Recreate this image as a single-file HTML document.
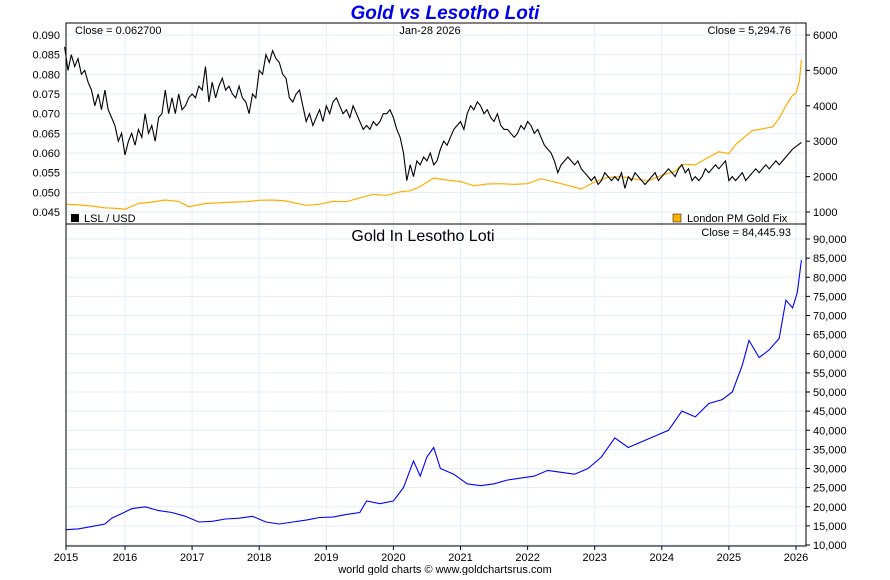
<!DOCTYPE html>
<html><head><meta charset="utf-8"><style>
body{margin:0;background:#fff;font-family:"Liberation Sans",sans-serif;}
svg text{font-family:"Liberation Sans",sans-serif;}
</style></head><body>
<svg id="c" width="890" height="575">
<text x="445" y="19" text-anchor="middle" font-size="19" font-weight="bold" font-style="italic" fill="#0000ee">Gold vs Lesotho Loti</text>
<g id="grid"></g>
<g id="marks"></g>
<rect x="66" y="23" width="740" height="523" fill="none" stroke="#000"/>
<line x1="66" y1="224" x2="806" y2="224" stroke="#000"/>
<text x="75" y="34" font-size="11">Close = 0.062700</text>
<text x="430" y="34" text-anchor="middle" font-size="11">Jan-28  2026</text>
<text x="791" y="34" text-anchor="end" font-size="11">Close = 5,294.76</text>
<rect x="71" y="214" width="8" height="8" fill="#000"/>
<text x="84" y="222" font-size="11">LSL / USD</text>
<rect x="673" y="214" width="8" height="8" fill="#ffb000" stroke="#000" stroke-width="0.5"/>
<text x="687" y="222" font-size="11">London PM Gold Fix</text>
<text x="423" y="241" text-anchor="middle" font-size="16">Gold In Lesotho Loti</text>
<text x="791" y="236" text-anchor="end" font-size="11">Close = 84,445.93</text>
<text x="445" y="573" text-anchor="middle" font-size="11">world gold charts © www.goldchartsrus.com</text>
</svg>
<script>
const years=[2015,2016,2017,2018,2019,2020,2021,2022,2023,2024,2025,2026];
const lslTicks=[0.045,0.050,0.055,0.060,0.065,0.070,0.075,0.080,0.085,0.090];
const goldTicks=[1000,2000,3000,4000,5000,6000];
const lslGoldTicks=[10000,15000,20000,25000,30000,35000,40000,45000,50000,55000,60000,65000,70000,75000,80000,85000,90000];
// LSL/USD sampled every 0.05 year, one row per calendar year
const lsl2015=[0.087,0.081,0.085,0.082,0.084,0.080,0.081,0.078,0.076,0.072,0.075,0.071,0.076,0.071,0.069,0.067,0.063,0.065];
const lsl2016=[0.0595,0.063,0.065,0.062,0.066,0.064,0.070,0.065,0.067,0.063,0.069,0.070,0.076,0.070,0.074,0.070,0.075,0.071,0.072,0.074];
const lsl2017=[0.075,0.074,0.077,0.076,0.082,0.073,0.078,0.074,0.077,0.079,0.076,0.077,0.075,0.074,0.077,0.074,0.073,0.070,0.075,0.074];
const lsl2018=[0.081,0.080,0.085,0.083,0.086,0.084,0.083,0.080,0.079,0.074,0.073,0.075,0.076,0.072,0.068,0.070,0.067,0.069,0.071,0.068];
const lsl2019=[0.072,0.070,0.073,0.074,0.072,0.070,0.071,0.069,0.072,0.070,0.068,0.066,0.067,0.066,0.068,0.067,0.068,0.070,0.070,0.071];
const lsl2020=[0.069,0.066,0.064,0.060,0.053,0.057,0.054,0.058,0.057,0.059,0.058,0.060,0.057,0.058,0.061,0.063,0.062,0.064,0.066,0.067];
const lsl2021=[0.068,0.066,0.070,0.072,0.071,0.073,0.072,0.070,0.071,0.069,0.068,0.070,0.067,0.066,0.066,0.065,0.064,0.065,0.067,0.066];
const lsl2022=[0.068,0.067,0.065,0.066,0.064,0.062,0.061,0.060,0.058,0.055,0.057,0.058,0.059,0.058,0.057,0.058,0.056,0.055,0.054,0.053];
const lsl2023=[0.054,0.052,0.053,0.055,0.054,0.053,0.054,0.053,0.055,0.051,0.054,0.053,0.055,0.054,0.053,0.052,0.053,0.054,0.055,0.053];
const lsl2024=[0.054,0.055,0.056,0.055,0.054,0.056,0.057,0.055,0.056,0.053,0.054,0.053,0.054,0.056,0.055,0.056,0.057,0.056,0.057,0.058];
const lsl2025=[0.053,0.054,0.053,0.054,0.055,0.053,0.054,0.055,0.056,0.055,0.056,0.057,0.056,0.057,0.058,0.057,0.058,0.059,0.060,0.061];
const lsl2026=[0.0627];
const goldDates=[2015.12,2015.3,2015.5,2015.7,2015.9,2016.0,2016.2,2016.4,2016.6,2016.8,2016.95,2017.2,2017.4,2017.6,2017.8,2018.0,2018.2,2018.4,2018.6,2018.7,2018.9,2019.1,2019.3,2019.5,2019.7,2019.9,2020.1,2020.25,2020.4,2020.6,2020.8,2021.0,2021.2,2021.4,2021.6,2021.8,2022.0,2022.2,2022.4,2022.6,2022.8,2023.0,2023.2,2023.4,2023.6,2023.8,2024.0,2024.2,2024.3,2024.5,2024.7,2024.85,2025.0,2025.1,2025.25,2025.35,2025.5,2025.65,2025.75,2025.85,2025.95,2026.0,2026.05,2026.08];
const goldValues=[1220,1200,1170,1120,1100,1080,1240,1280,1340,1300,1150,1240,1260,1280,1290,1330,1340,1310,1230,1190,1220,1300,1290,1400,1500,1470,1570,1600,1720,1960,1900,1860,1740,1790,1800,1780,1800,1940,1850,1750,1650,1850,1980,2000,1930,1880,2040,2150,2350,2330,2550,2700,2650,2900,3150,3300,3350,3400,3650,4000,4300,4350,4700,5295];
const lslGoldDates=[2015.12,2015.3,2015.5,2015.7,2015.8,2015.95,2016.1,2016.3,2016.5,2016.7,2016.9,2017.1,2017.3,2017.5,2017.7,2017.9,2018.1,2018.3,2018.5,2018.7,2018.9,2019.1,2019.3,2019.5,2019.6,2019.8,2020.0,2020.15,2020.3,2020.4,2020.5,2020.6,2020.7,2020.9,2021.1,2021.3,2021.5,2021.7,2021.9,2022.1,2022.3,2022.5,2022.7,2022.9,2023.1,2023.3,2023.5,2023.7,2023.9,2024.1,2024.3,2024.5,2024.7,2024.9,2025.05,2025.2,2025.3,2025.45,2025.6,2025.75,2025.85,2025.95,2026.02,2026.08];
const lslGoldValues=[14000,14200,14800,15500,17000,18200,19500,20000,19000,18500,17500,16000,16200,16800,17000,17500,16000,15500,16000,16500,17200,17300,18000,18500,21500,20800,21500,25000,32000,28000,33000,35500,30000,28500,26000,25500,26000,27000,27500,28000,29500,29000,28500,30000,33000,38000,35500,37000,38500,40000,45000,43500,47000,48000,50000,57000,63500,59000,61000,64000,74000,72000,76000,84446];

const X0=66,X1=806;
function xOf(t){return 125+(t-2016)*67.1;}
function yL(v){return 35+(0.090-v)/0.005*19.67;}
function yG(v){return 212-(v-1000)/1000*35.4;}
function yB(v){return 545-(v-10000)/1000*3.825;}
const NS='http://www.w3.org/2000/svg';
const svg=document.getElementById('c'),grid=document.getElementById('grid'),marks=document.getElementById('marks');
function mk(tag,attrs,parent){const e=document.createElementNS(NS,tag);for(const k in attrs)e.setAttribute(k,attrs[k]);parent.appendChild(e);return e;}
years.forEach(y=>{const x=Math.max(X0,xOf(y));
 const g=mk('line',{x1:x,x2:x,y1:23,y2:546,stroke:'#e3eef9'},grid);
 
 
 const tk=mk('line',{x1:x,x2:x,y1:546,y2:550,stroke:'#000'},svg);
 
 
 const t=mk('text',{x:x,y:561,'text-anchor':'middle','font-size':11},svg);t.textContent=y;
 
 
});
lslTicks.forEach(v=>{const y=yL(v);
 const g=mk('line',{x1:X0,x2:X1,y1:y,y2:y,stroke:'#e3eef9'},grid);
 
 
 const t=mk('text',{x:60,y:y+4,'text-anchor':'end','font-size':11},svg);t.textContent=v.toFixed(3);
 
 
});
goldTicks.forEach(v=>{const y=yG(v);
 const tk=mk('line',{x1:806,x2:810,y1:y,y2:y,stroke:'#000'},svg);
 
 
 const t=mk('text',{x:813,y:y+4,'font-size':11},svg);t.textContent=v;
 
 
});
lslGoldTicks.forEach(v=>{const y=yB(v);
 const g=mk('line',{x1:X0,x2:X1,y1:y,y2:y,stroke:'#e3eef9'},grid);
 
 
 const tk=mk('line',{x1:806,x2:810,y1:y,y2:y,stroke:'#000'},svg);
 
 
 const t=mk('text',{x:813,y:y+4,'font-size':11},svg);t.textContent=v.toLocaleString('en-US');
 
 
});
// assemble LSL series: yearly rows sampled at 0.05-year steps
const lslRows=[[2015.1,lsl2015],[2016,lsl2016],[2017,lsl2017],[2018,lsl2018],[2019,lsl2019],[2020,lsl2020],[2021,lsl2021],[2022,lsl2022],[2023,lsl2023],[2024,lsl2024],[2025,lsl2025],[2026.08,lsl2026]];
const lslDates=[],lslValues=[];
lslRows.forEach(([start,row])=>row.forEach((v,i)=>{lslDates.push(start+i*0.05);lslValues.push(v);}));
function line(ds,vs,yf){return ds.map((d,i)=>xOf(d).toFixed(1)+','+yf(vs[i]).toFixed(1)).join(' ');}
const g1=mk('polyline',{points:line(goldDates,goldValues,yG),fill:'none',stroke:'#ffae00','stroke-width':1.2},marks);


const l1=mk('polyline',{points:line(lslDates,lslValues,yL),fill:'none',stroke:'#000','stroke-width':1.1},marks);


const b1=mk('polyline',{points:line(lslGoldDates,lslGoldValues,yB),fill:'none',stroke:'#0000ff','stroke-width':1.1},marks);


</script>
</body></html>
